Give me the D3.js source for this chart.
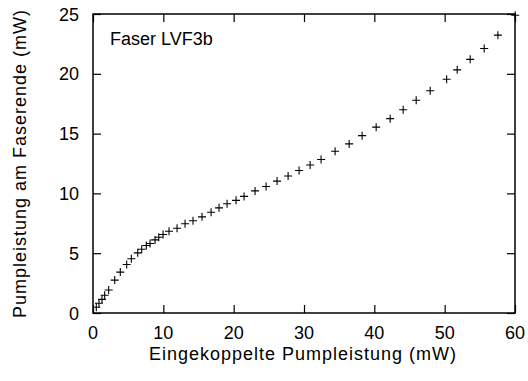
<!DOCTYPE html>
<html>
<head>
<meta charset="utf-8">
<script src="https://cdn.jsdelivr.net/npm/d3@7"></script>
<style>
  body { margin: 0; background: #fff; }
  text { font-family: "Liberation Sans", Arial, Helvetica, sans-serif; fill: #000; }
</style>
</head>
<body>
<div id="chart"></div>
<script>
// Eingekoppelte Pumpleistung (mW)
const pumpIn = [0.47, 0.85, 1.28, 1.66, 2.23, 3.09, 3.88, 4.79, 5.45, 6.36, 6.93, 7.58, 8.11, 8.82, 9.35, 9.96,
  10.81, 11.95, 13.09, 14.22, 15.50, 16.79, 17.92, 19.06, 20.34, 21.48, 23.04, 24.61, 26.17, 27.74,
  29.30, 30.87, 32.43, 34.42, 36.42, 38.26, 40.26, 42.25, 44.10, 45.95, 47.94, 50.28, 51.78, 53.63,
  55.62, 57.57, 60.03];
// Pumpleistung am Faserende (mW)
const pumpOut = [0.48, 0.81, 1.14, 1.48, 1.92, 2.75, 3.42, 4.06, 4.53, 5.03, 5.33, 5.64, 5.81, 6.11, 6.33, 6.56,
  6.83, 7.08, 7.46, 7.71, 8.04, 8.42, 8.79, 9.13, 9.42, 9.75, 10.21, 10.58, 11.03, 11.46,
  11.92, 12.38, 12.83, 13.53, 14.14, 14.83, 15.54, 16.25, 17.00, 17.79, 18.58, 19.54, 20.33, 21.21,
  22.11, 23.23, 24.89];
const xTicks = [0, 10, 20, 30, 40, 50, 60];
const yTicks = [0, 5, 10, 15, 20, 25];

const svgWidth = 528, svgHeight = 381;
const plotLeft = 93, plotRight = 515, plotTop = 14, plotBottom = 313;
const tickLen = 8;

const svg = d3.select("#chart").append("svg")
    .attr("width", svgWidth)
    .attr("height", svgHeight);

const x = d3.scaleLinear().domain([0, 60]).range([plotLeft, plotRight]);
const y = d3.scaleLinear().domain([0, 25]).range([plotBottom, plotTop]);

// inward ticks on all four sides (mirrored)
svg.append("g")
    .attr("transform", `translate(0,${plotBottom})`)
    .call(d3.axisTop(x).tickValues(xTicks).tickSize(tickLen).tickFormat(""))
    .call(g => g.select(".domain").remove());
svg.append("g")
    .attr("transform", `translate(0,${plotTop})`)
    .call(d3.axisBottom(x).tickValues(xTicks).tickSize(tickLen).tickFormat(""))
    .call(g => g.select(".domain").remove());
svg.append("g")
    .attr("transform", `translate(${plotLeft},0)`)
    .call(d3.axisRight(y).tickValues(yTicks).tickSize(tickLen).tickFormat(""))
    .call(g => g.select(".domain").remove());
svg.append("g")
    .attr("transform", `translate(${plotRight},0)`)
    .call(d3.axisLeft(y).tickValues(yTicks).tickSize(tickLen).tickFormat(""))
    .call(g => g.select(".domain").remove());
svg.selectAll(".tick line").attr("stroke", "#000").attr("stroke-width", 1.2);

// tick labels
svg.append("g").selectAll("text")
    .data(xTicks)
    .join("text")
    .attr("x", d => x(d))
    .attr("y", 339)
    .attr("text-anchor", "middle")
    .attr("font-size", 18)
    .text(d => d);

svg.append("g").selectAll("text")
    .data(yTicks)
    .join("text")
    .attr("x", 79)
    .attr("y", d => y(d) + 6.5)
    .attr("text-anchor", "end")
    .attr("font-size", 18)
    .text(d => d);

// data points as "+"
svg.append("g").selectAll("path")
    .data(pumpIn.map((v, i) => [v, pumpOut[i]]))
    .join("path")
    .attr("d", d => {
        const cx = x(d[0]), cy = y(d[1]);
        return `M${cx - 4},${cy}H${cx + 4}M${cx},${cy - 4}V${cy + 4}`;
    })
    .attr("stroke", "#000")
    .attr("stroke-width", 1.1)
    .attr("fill", "none");

// frame
svg.append("rect")
    .attr("x", plotLeft)
    .attr("y", plotTop)
    .attr("width", plotRight - plotLeft)
    .attr("height", plotBottom - plotTop)
    .attr("fill", "none")
    .attr("stroke", "#000")
    .attr("stroke-width", 1.5);

// key label
svg.append("text")
    .attr("x", 110)
    .attr("y", 45)
    .attr("font-size", 18)
    .text("Faser LVF3b");

// axis titles
svg.append("text")
    .attr("x", 303)
    .attr("y", 360)
    .attr("text-anchor", "middle")
    .attr("font-size", 18)
    .attr("letter-spacing", 1)
    .text("Eingekoppelte Pumpleistung (mW)");

svg.append("text")
    .attr("transform", `translate(26,${(plotTop + plotBottom) / 2}) rotate(-90)`)
    .attr("text-anchor", "middle")
    .attr("font-size", 18)
    .attr("letter-spacing", 1)
    .text("Pumpleistung am Faserende (mW)");
</script>
</body>
</html>
